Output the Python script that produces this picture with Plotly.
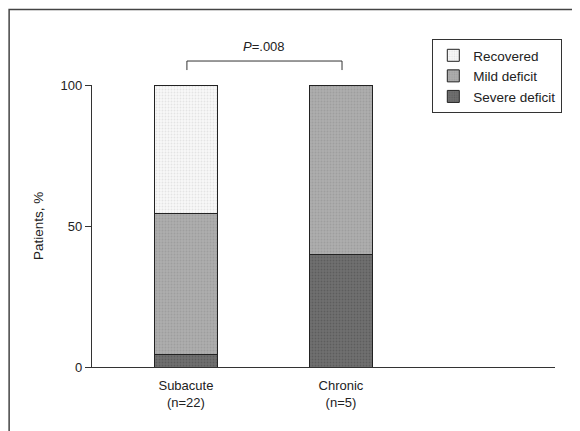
import plotly.graph_objects as go

categories = ["Subacute<br>(n=22)", "Chronic<br>(n=5)"]
severe = [4.5, 40]
mild = [50.0, 60]
recovered = [45.5, 0]
y_ticks = [0, 50, 100]
p_label = "<i>P</i>=.008"

FONT = "Liberation Sans, Arial, sans-serif"

fig = go.Figure()
series = [
    ("Severe deficit", severe, "#707070", "#4a4a4a"),
    ("Mild deficit", mild, "#adadad", "#909090"),
    ("Recovered", recovered, "#f8f8f8", "#d0d0d0"),
]
for name, vals, bg, fg in series:
    fig.add_trace(go.Bar(
        x=[0, 1], y=vals, name=name, width=0.406,
        marker=dict(color=bg, line=dict(color="#222", width=1),
                    pattern=dict(shape=".", bgcolor=bg, fgcolor=fg, size=3, solidity=0.3)),
    ))

fig.update_layout(
    barmode="stack",
    width=572, height=423,
    margin=dict(l=84, r=25, t=77, b=64),
    paper_bgcolor="white", plot_bgcolor="white",
    font=dict(family=FONT, size=13, color="#222"),
    showlegend=True,
    legend=dict(x=0.735, y=1.163, xanchor="left", yanchor="top",
                bordercolor="#333", borderwidth=1, bgcolor="white",
                traceorder="reversed", font=dict(size=13.5),
                itemwidth=30),
    xaxis=dict(range=[-0.606, 2.381], tickvals=[0, 1], ticktext=categories,
               showline=True, linecolor="#333", linewidth=1.2, ticks="",
               ticklabelstandoff=6,
               showgrid=False, zeroline=False, fixedrange=True),
    yaxis=dict(range=[0, 100], tickvals=y_ticks, showline=True, linecolor="#333",
               linewidth=1.2, ticks="outside", ticklen=6, tickcolor="#333",
               showgrid=False, zeroline=False, tickfont=dict(size=13)),
)

fig.add_annotation(text="Patients, %", textangle=-90, x=-0.1166, y=0.5,
                   xanchor="center", yanchor="middle",
                   xref="paper", yref="paper", showarrow=False, font=dict(size=13.5))
fig.add_annotation(text=p_label, x=0.3715, y=1.135, xref="paper", yref="paper",
                   xanchor="center", yanchor="middle", showarrow=False, font=dict(size=13))
# bracket
fig.add_shape(type="path", xref="paper", yref="paper",
              path="M 0.205 1.053 L 0.205 1.085 L 0.540 1.085 L 0.540 1.053",
              line=dict(color="#333", width=1))
# outer frame
fig.add_shape(type="rect", xref="paper", yref="paper",
              x0=-0.179, x1=1.045, y0=-0.35, y1=1.268,
              line=dict(color="#444", width=1.5))

fig.write_html("out.html")
